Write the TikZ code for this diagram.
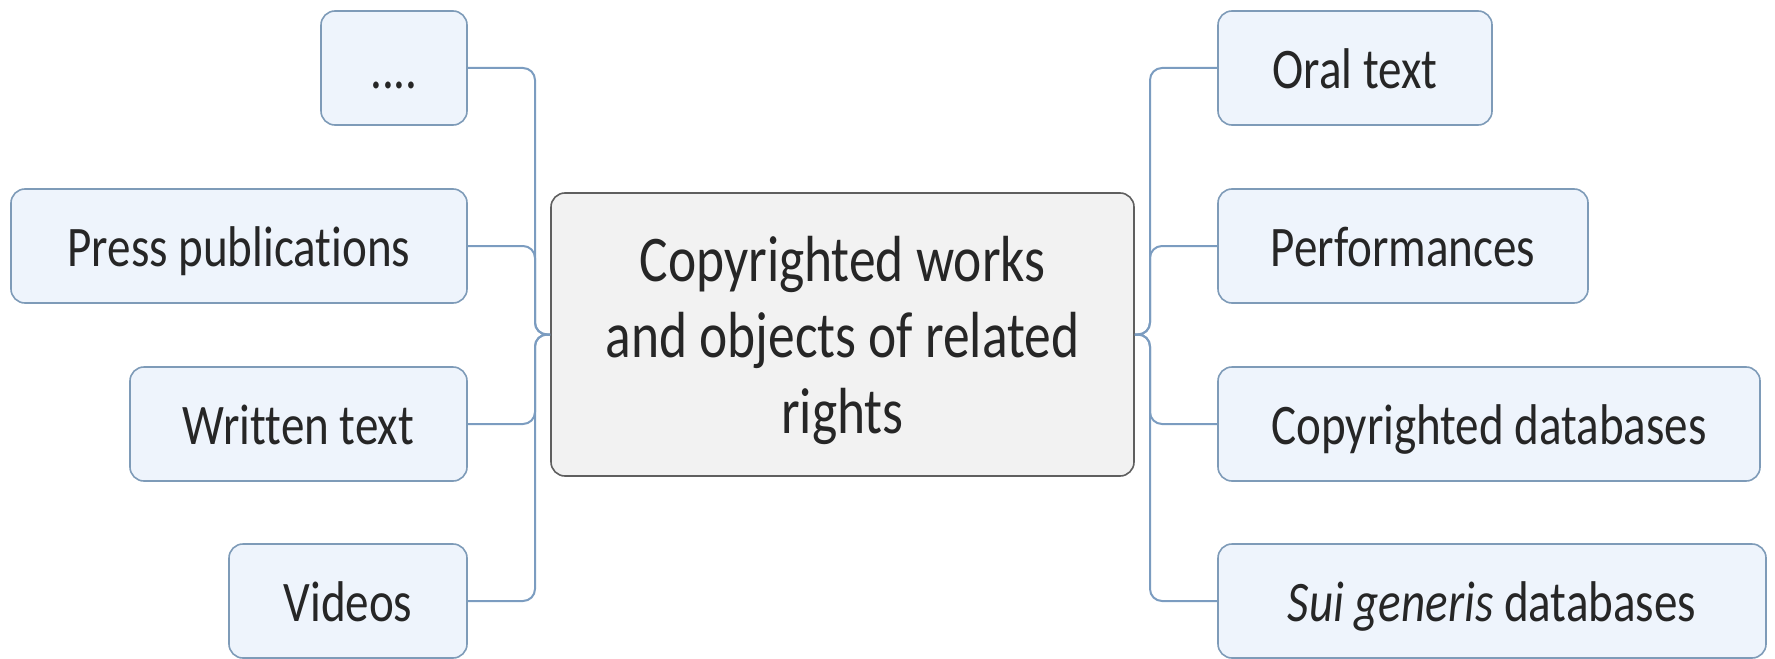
\documentclass[tikz,border=0pt]{standalone}
\usepackage{fontspec}
\setmainfont{Carlito}[FakeStretch=0.82, Ligatures=NoCommon]
\usepackage{tikz}
\definecolor{leaf}{HTML}{EEF4FC}
\definecolor{leafline}{HTML}{7E9BB8}
\definecolor{hub}{HTML}{F2F2F2}
\definecolor{hubline}{HTML}{5F5F5F}
\definecolor{wire}{HTML}{7B9CC0}
\definecolor{ink}{HTML}{262626}
\tikzset{
  leafbox/.style={draw=leafline, fill=leaf, line width=0.8pt, rounded corners=7pt,
    minimum height=57pt, inner sep=0pt, text=ink, text height=20.6pt, text depth=0pt,
    font=\fontsize{28.7}{34}\selectfont},
  hubbox/.style={draw=hubline, fill=hub, line width=0.8pt, rounded corners=7pt,
    minimum width=291.5pt, minimum height=141.5pt, inner sep=0pt, align=center, text=ink,
    text height=105pt, text depth=6.5pt, font=\fontsize{32.6}{38}\selectfont},
  link/.style={draw=wire, line width=1pt, rounded corners=6pt},
}

\begin{document}
\begin{tikzpicture}[x=0.5pt,y=-0.5pt]
  \useasboundingbox (0,0) rectangle (1775,658);
  \node[hubbox] (core) at (842.5,334.5) {Copyrighted works\\and objects of related\\rights};
  % left side
  \node[leafbox, minimum width=73pt] (dots) at (394,68) {....};
  \node[leafbox, minimum width=228pt] (press) at (239,246) {Press publications};
  \node[leafbox, minimum width=168.5pt] (written) at (298.5,424) {Written text};
  \node[leafbox, minimum width=119pt] (videos) at (348,601) {Videos};
  % right side
  \node[leafbox, minimum width=137pt] (oral) at (1355,68) {Oral text};
  \node[leafbox, minimum width=185pt] (perf) at (1403,246) {Performances};
  \node[leafbox, minimum width=271pt] (cdb) at (1489,424) {Copyrighted databases};
  \node[leafbox, minimum width=274pt] (sui) at (1492,601) {\textit{Sui generis} databases};
  \coordinate (lt) at (535,334.5);
  \coordinate (rt) at (1150,334.5);
  \foreach \n in {dots,press,written,videos}
    \draw[link] (core.west) -- (lt) |- (\n.east);
  \foreach \n in {oral,perf,cdb,sui}
    \draw[link] (core.east) -- (rt) |- (\n.west);
\end{tikzpicture}
\end{document}
